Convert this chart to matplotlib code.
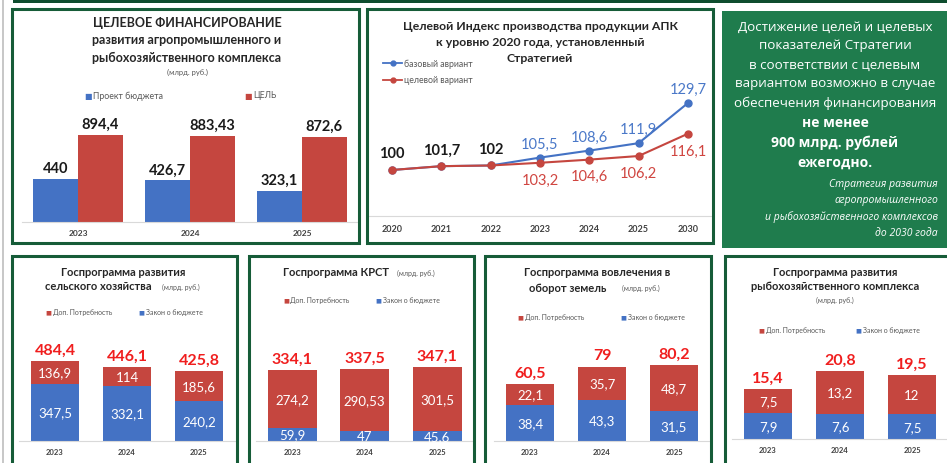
import matplotlib
matplotlib.use("Agg")
import matplotlib.pyplot as plt
from matplotlib.patches import Rectangle
from matplotlib.lines import Line2D

plt.rcParams['font.family'] = ['Lato', 'DejaVu Sans']

W, H = 947, 464

# ---- data ----
years3 = ["2023", "2024", "2025"]

fin_budget = [440, 426.7, 323.1]
fin_goal = [894.4, 883.43, 872.6]
fin_budget_lbl = ["440", "426,7", "323,1"]
fin_goal_lbl = ["894,4", "883,43", "872,6"]

idx_years = ["2020", "2021", "2022", "2023", "2024", "2025", "2030"]
idx_base = [100, 101.7, 102, 105.5, 108.6, 111.9, 129.7]
idx_target = [100, 101.7, 102, 103.2, 104.6, 106.2, 116.1]
idx_base_lbl = ["100", "101,7", "102", "105,5", "108,6", "111,9", "129,7"]
idx_target_lbl = ["100", "101,7", "102", "103,2", "104,6", "106,2", "116,1"]

agro_law = [347.5, 332.1, 240.2]
agro_need = [136.9, 114, 185.6]
agro_lbl = [["347,5", "332,1", "240,2"], ["136,9", "114", "185,6"], ["484,4", "446,1", "425,8"]]

krst_law = [59.9, 47, 45.6]
krst_need = [274.2, 290.53, 301.5]
krst_lbl = [["59,9", "47", "45,6"], ["274,2", "290,53", "301,5"], ["334,1", "337,5", "347,1"]]

land_law = [38.4, 43.3, 31.5]
land_need = [22.1, 35.7, 48.7]
land_lbl = [["38,4", "43,3", "31,5"], ["22,1", "35,7", "48,7"], ["60,5", "79", "80,2"]]

fish_law = [7.9, 7.6, 7.5]
fish_need = [7.5, 13.2, 12]
fish_lbl = [["7,9", "7,6", "7,5"], ["7,5", "13,2", "12"], ["15,4", "20,8", "19,5"]]

BLUE = '#4472C4'
RED = '#C5463F'
BRIGHT_RED = '#F01E1E'
DKGREEN = '#165C38'
BOXGREEN = '#1F7C4D'

fig = plt.figure(figsize=(W / 100, H / 100), dpi=100)


def fx(x):
    return x / W


def fy(y):
    return 1 - y / H


def add_ax(x0, ytop, x1, ybot):
    return fig.add_axes([fx(x0), fy(ybot), (x1 - x0) / W, (ybot - ytop) / H])


def frame(x0, y0, x1, y1):
    fig.add_artist(Rectangle((fx(x0), fy(y1)), (x1 - x0) / W, (y1 - y0) / H,
                             transform=fig.transFigure, fill=False,
                             edgecolor=DKGREEN, linewidth=2.2))


def text(x, y, s, **kw):
    kw.setdefault('ha', 'center')
    kw.setdefault('va', 'center')
    fig.text(fx(x), fy(y), s, **kw)


def sq_legend(x, y, color, label, size=5):
    text(x, y, "■", color=color, fontsize=size - 0.5, ha='left', family='DejaVu Sans')
    text(x + 1.5 * size, y, label, color='#595959', fontsize=size, ha='left')


def style_ax(ax, labels, fs):
    for s in ['top', 'right', 'left']:
        ax.spines[s].set_visible(False)
    ax.spines['bottom'].set_color('#d9d9d9')
    ax.set_yticks([])
    ax.set_xticks(range(len(labels)))
    ax.set_xticklabels(labels, fontsize=fs, color='#404040', fontweight='bold')
    ax.tick_params(axis='x', length=0, pad=5)
    ax.patch.set_alpha(0)


# background decorations
fig.add_artist(Rectangle((fx(1.5), 0), 2.5 / W, 1, transform=fig.transFigure,
                         color='#c8c8c8', lw=0))
fig.add_artist(Rectangle((fx(13), fy(4)), (W - 13) / W, 4 / H, transform=fig.transFigure,
                         color='#0E4D2E', lw=0))

# ---- panel 1: target financing ----
frame(11.5, 9.5, 358.5, 243.5)
for i, s in enumerate(["ЦЕЛЕВОЕ ФИНАНСИРОВАНИЕ", "развития агропромышленного и",
                       "рыбохозяйственного комплекса"]):
    text(187, 23 + 17.5 * i, s, fontsize=9, fontweight='bold', color='#262626')
text(187, 72, "(млрд. руб.)", fontsize=5.5, color='#595959')
sq_legend(84, 96, BLUE, "Проект бюджета", 6.3)
sq_legend(244, 96, RED, "ЦЕЛЬ", 6.3)

ax1 = add_ax(22, 100, 358, 223)
xs = range(len(years3))
ax1.bar([x - 0.2 for x in xs], fin_budget, width=0.4, color=BLUE)
ax1.bar([x + 0.2 for x in xs], fin_goal, width=0.4, color=RED)
for i in xs:
    ax1.annotate(fin_budget_lbl[i], (i - 0.2, fin_budget[i]), xytext=(0, 3),
                 textcoords='offset points', ha='center', va='bottom',
                 fontsize=10.5, fontweight='bold', color='#1a1a1a')
    ax1.annotate(fin_goal_lbl[i], (i + 0.2, fin_goal[i]), xytext=(0, 3),
                 textcoords='offset points', ha='center', va='bottom',
                 fontsize=10.5, fontweight='bold', color='#1a1a1a')
ax1.set_xlim(-0.5, 2.5)
ax1.set_ylim(0, 1264)
style_ax(ax1, years3, 6)

# ---- panel 2: production index ----
frame(367, 9.5, 713, 243.5)
for i, s in enumerate(["Целевой Индекс производства продукции АПК",
                       "к уровню 2020 года, установленный", "Стратегией"]):
    text(540, 27 + 16 * i, s, fontsize=8.8, fontweight='bold', color='#262626')
for yy, c, lbl in [(64, BLUE, "базовый авриант"), (81, RED, "целевой вариант")]:
    fig.add_artist(Line2D([fx(383), fx(402)], [fy(yy), fy(yy)], color=c, lw=1.3,
                          transform=fig.transFigure))
    fig.add_artist(Line2D([fx(392.5)], [fy(yy)], marker='o', markersize=3.5, color=c,
                          transform=fig.transFigure))
    text(404, yy, lbl, fontsize=6.3, color='#595959', ha='left')

ax2 = add_ax(367.3, 95, 712.6, 217)
xi = list(range(len(idx_years)))
ax2.plot(xi, idx_base, color=BLUE, lw=1.5, marker='o', markersize=5)
ax2.plot(xi, idx_target, color=RED, lw=1.5, marker='o', markersize=5)
for i in xi:
    if i < 3:
        ax2.annotate(idx_base_lbl[i], (i, idx_base[i]), xytext=(0, 7),
                     textcoords='offset points', ha='center', va='bottom',
                     fontsize=10.5, fontweight='bold', color='#1a1a1a')
    else:
        ax2.annotate(idx_base_lbl[i], (i, idx_base[i]), xytext=(0, 5),
                     textcoords='offset points', ha='center', va='bottom',
                     fontsize=10.5, color='#4a78c8')
        ax2.annotate(idx_target_lbl[i], (i, idx_target[i]), xytext=(0, -7),
                     textcoords='offset points', ha='center', va='top',
                     fontsize=10.5, color='#d04540')
ax2.set_xlim(-0.5, 6.5)
ax2.set_ylim(79.6, 133.7)
style_ax(ax2, idx_years, 6.5)
ax2.tick_params(axis='x', pad=6)

# ---- green text box ----
fig.add_artist(Rectangle((fx(722), fy(249)), (W - 722) / W, (249 - 12) / H,
                         transform=fig.transFigure, color=BOXGREEN, lw=0))
plain = ["Достижение целей и целевых", "показателей Стратегии",
         "в соответствии с целевым", "вариантом возможно в случае",
         "обеспечения финансирования"]
for i, s in enumerate(plain):
    text(835, 27 + 19 * i, s, fontsize=9.6, color='white', family=['Open Sans', 'DejaVu Sans'])
for i, s in enumerate(["не менее", "900 млрд. рублей", "ежегодно."]):
    text(835, 123 + 20 * i, s, fontsize=10, color='white', fontweight='bold',
         family=['Open Sans', 'DejaVu Sans'])
for i, s in enumerate(["Стратегия развития", "агропромышленного",
                       "и рыбохозяйственного комплексов", "до 2030 года"]):
    text(938, 185 + 16 * i, s, fontsize=7.5, color='white', style='italic', ha='right',
         family=['Open Sans', 'DejaVu Sans'])


# ---- bottom stacked panels ----
def stacked(ax, law, need, lbls, top):
    xs = range(len(law))
    ax.bar(xs, law, width=0.67, color=BLUE)
    ax.bar(xs, need, bottom=law, width=0.67, color=RED)
    for i in xs:
        ax.text(i, law[i] / 2, lbls[0][i], ha='center', va='center',
                fontsize=9.5, color='white')
        ax.text(i, law[i] + need[i] / 2, lbls[1][i], ha='center', va='center',
                fontsize=9.5, color='white')
        ax.annotate(lbls[2][i], (i, law[i] + need[i]), xytext=(0, 3),
                    textcoords='offset points', ha='center', va='bottom',
                    fontsize=11.5, fontweight='bold', color=BRIGHT_RED)
    ax.set_xlim(-0.5, 2.5)
    ax.set_ylim(0, top)
    style_ax(ax, years3, 5.5)


# panel 4
frame(11.5, 257, 236.5, 470)
text(123, 273, "Госпрограмма развития", fontsize=8, fontweight='bold', color='#262626')
text(98, 287, "сельского хозяйства", fontsize=8, fontweight='bold', color='#262626')
text(181, 287, "(млрд. руб.)", fontsize=5, color='#595959')
sq_legend(45, 313, RED, "Доп. Потребность")
sq_legend(138, 313, BLUE, "Закон о бюджете")
ax4 = add_ax(19, 320, 235, 442)
stacked(ax4, agro_law, agro_need, agro_lbl, 739)

# panel 5
frame(249, 257, 474, 470)
text(336, 273, "Госпрограмма КРСТ", fontsize=8, fontweight='bold', color='#262626')
text(416, 273, "(млрд. руб.)", fontsize=5, color='#595959')
sq_legend(283, 301, RED, "Доп. Потребность")
sq_legend(375, 301, BLUE, "Закон о бюджете")
ax5 = add_ax(256, 320, 473.5, 442)
stacked(ax5, krst_law, krst_need, krst_lbl, 574)

# panel 6
frame(485, 257, 711, 470)
text(597, 273, "Госпрограмма вовлечения в", fontsize=8, fontweight='bold', color='#262626')
text(568, 288, "оборот земель", fontsize=8, fontweight='bold', color='#262626')
text(641, 288, "(млрд. руб.)", fontsize=5, color='#595959')
sq_legend(517, 318, RED, "Доп. Потребность")
sq_legend(620, 318, BLUE, "Закон о бюджете")
ax6 = add_ax(494, 320, 710, 442)
stacked(ax6, land_law, land_need, land_lbl, 129.5)

# panel 7
frame(724.5, 257, 960, 470)
text(835, 273, "Госпрограмма развития", fontsize=8, fontweight='bold', color='#262626')
text(835, 287, "рыбохозяйственного комплекса", fontsize=8, fontweight='bold', color='#262626')
text(835, 300, "(млрд. руб.)", fontsize=5, color='#595959')
sq_legend(758, 331, RED, "Доп. Потребность")
sq_legend(855, 331, BLUE, "Закон о бюджете")
ax7 = add_ax(732, 318, 948, 440)
stacked(ax7, fish_law, fish_need, fish_lbl, 37.3)

fig.savefig("out.png", dpi=100)
